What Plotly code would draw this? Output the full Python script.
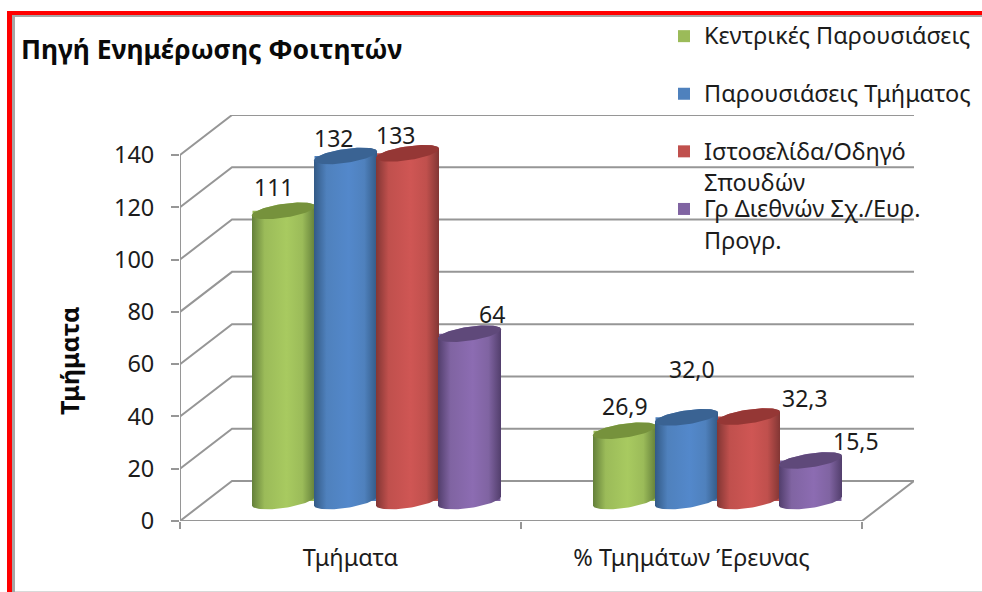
import numpy as np
import plotly.graph_objects as go

W, H = 982, 592
categories = ["Τμήματα", "% Τμημάτων Έρευνας"]
series_names = ["<span style='font-size:23.5px'>Κεντρικές Παρουσιάσεις</span><br>&nbsp;",
                "<span style='font-size:23.5px'>Παρουσιάσεις Τμήματος</span><br>&nbsp;",
                "<span style='font-size:23.5px'>Ιστοσελίδα/Οδηγό</span><br><sub><span style='font-size:23.5px'>Σπουδών</span></sub>",
                "<span style='font-size:23.5px'>Γρ Διεθνών Σχ./Ευρ.</span><br><sub><span style='font-size:23.5px'>Προγρ.</span></sub>"]
kentrikes = [111, 26.9]
tmimatos = [132, 32.0]
istoselida = [133, 32.3]
gr_diethnon = [64, 15.5]
value_labels = [["111", "26,9"], ["132", "32,0"], ["133", "32,3"], ["64", "15,5"]]
y_ticks = [0, 20, 40, 60, 80, 100, 120, 140]
title_text = "Πηγή Ενημέρωσης Φοιτητών"
y_title = "Τμήματα"

series = [kentrikes, tmimatos, istoselida, gr_diethnon]
flat = ["#9bbb59", "#4f81bd", "#c0504d", "#8064a2"]
edge = ["#64803a", "#335a86", "#823634", "#523e6c"]
mid = ["#a8ca60", "#5388cb", "#cf5654", "#8c6cb2"]
cap = ["#76923c", "#3a6393", "#953735", "#5f497a"]
label_shift = [[(-10, 24), (0, 25)], [(-12, 18), (5, 48)], [(-12, 18), (56, 19)], [(22, 20), (45, 19)]]

# plot frame in pixels
L, R, T, B = 180, 914, 115, 521
PX_X = 341.0
PX_Y = 366.0 / 140
BACK_DX, BACK_DY = 52 / PX_X, 40 / PX_Y
MID_DX, MID_DY = BACK_DX / 2, BACK_DY / 2
PITCH = 62 / PX_X
A, Bb, S = 31.5 / PX_X, 7 / PX_Y, 4.5 / PX_Y
GRID = "#969696"
FONT = "Noto Sans"
TXT = "#1c1c1c"

fig = go.Figure()

# walls and floor
gx, gy = [], []
for v in y_ticks:
    gx += [-0.5, -0.5 + BACK_DX, 1.5 + BACK_DX, None]
    gy += [v, v + BACK_DY, v + BACK_DY, None]
gx += [-0.5, -0.5, None, -0.5, 1.5, 1.5 + BACK_DX]
gy += [0, y_ticks[-1], None, 0, 0, BACK_DY]
fig.add_trace(go.Scatter(x=gx, y=gy, mode="lines", line=dict(color=GRID, width=2),
                         showlegend=False, hoverinfo="skip", cliponaxis=False))

# real bars (also supply the legend)
xpos = [i + MID_DX for i in range(len(categories))]
for s, vals in enumerate(series):
    fig.add_trace(go.Bar(x=xpos, y=vals, base=MID_DY, name=series_names[s],
                         marker=dict(color=flat[s], line=dict(width=0)),
                         legendgroup=str(s)))

# cylinder skins drawn from the same values
t_front = np.linspace(np.pi, 2 * np.pi, 40)
t_back = np.linspace(0, np.pi, 40)
t_all = np.linspace(0, 2 * np.pi, 80)
for s, vals in enumerate(series):
    for c, v in enumerate(vals):
        cx = xpos[c] + (s - 1.5) * PITCH
        top = v + MID_DY
        bx = cx + A * np.cos(t_front)
        by = MID_DY + Bb * np.sin(t_front) + S * np.cos(t_front)
        tx = cx + A * np.cos(t_back)
        ty = top + Bb * np.sin(t_back) + S * np.cos(t_back)
        fig.add_trace(go.Scatter(
            x=np.r_[bx, tx, bx[0]], y=np.r_[by, ty, by[0]], mode="lines",
            line=dict(width=0), fill="toself",
            fillgradient=dict(type="horizontal",
                              colorscale=[[0, edge[s]], [0.2, flat[s]], [0.55, mid[s]],
                                          [0.8, flat[s]], [1, edge[s]]]),
            showlegend=False, hoverinfo="skip", cliponaxis=False))
        fig.add_trace(go.Scatter(
            x=cx + A * np.cos(t_all), y=top + Bb * np.sin(t_all) + S * np.cos(t_all),
            mode="lines", line=dict(width=0), fill="toself", fillcolor=cap[s],
            showlegend=False, hoverinfo="skip", cliponaxis=False))
        dxs, dys = label_shift[s][c]
        fig.add_annotation(x=cx, y=top, text=value_labels[s][c], showarrow=False,
                           xshift=dxs, yshift=dys, font=dict(family=FONT, size=23, color=TXT))

def to_pax(x):
    return (x - L) / (R - L)
def to_pay(y):
    return (B - y) / (B - T)

def rect(x0, y0, x1, y1, col):
    return dict(type="rect", xref="paper", yref="paper", x0=to_pax(x0), x1=to_pax(x1),
                y0=to_pay(y0), y1=to_pay(y1), fillcolor=col, line=dict(width=0), layer="above")

fig.update_layout(
    width=W, height=H, autosize=False,
    margin=dict(l=L, r=W - R, t=T, b=H - B, pad=0, autoexpand=False),
    paper_bgcolor="white", plot_bgcolor="rgba(0,0,0,0)",
    barmode="group", bargap=1 - 4 * PITCH, bargroupgap=0,
    font=dict(family=FONT, color=TXT),
    xaxis=dict(range=[-0.5, 1.5 + BACK_DX], tickmode="array", tickvals=[0, 1], ticktext=categories,
               ticklen=0, ticklabelstandoff=20, showgrid=False, zeroline=False, showline=False,
               tickfont=dict(family=FONT, size=23.5, color=TXT),
               minor=dict(tickmode="array", tickvals=[-0.5, 0.5, 1.5], ticks="outside", ticklen=7,
                          tickcolor=GRID, tickwidth=2, showgrid=False)),
    yaxis=dict(range=[0, 140 + BACK_DY], tickmode="array", tickvals=y_ticks, ticks="outside",
               ticklen=8, tickcolor=GRID, tickwidth=2, ticklabelstandoff=12, showgrid=False,
               zeroline=False, showline=False, tickfont=dict(family=FONT, size=23.5, color=TXT)),
    legend=dict(x=to_pax(664), y=to_pay(16), xanchor="left", yanchor="top", valign="top",
                bgcolor="rgba(0,0,0,0)", tracegroupgap=0, traceorder="normal",
                font=dict(family=FONT, size=21, color=TXT), itemclick=False, itemdoubleclick=False),
    shapes=[rect(7, 11, W, 15, "#ff0000"), rect(7, 11, 12, H, "#ff0000"),
            rect(12, 15, W, 17, "#a6a6a6"), rect(12, 15, 15, H, "#a6a6a6"),
            rect(15, H - 1, W, H, "#d9d9d9")],
    annotations=list(fig.layout.annotations) + [
        dict(xref="paper", yref="paper", x=to_pax(19), y=to_pay(49), xanchor="left", yanchor="middle",
             text="<b>" + title_text + "</b>", showarrow=False,
             font=dict(family=FONT, size=26.5, color="#0a0a0a")),
        dict(xref="paper", yref="paper", x=to_pax(69), y=to_pay(361), xanchor="center", yanchor="middle",
             text="<b>" + y_title + "</b>", textangle=-90, showarrow=False,
             font=dict(family=FONT, size=25, color="#0a0a0a")),
    ],
)
fig.write_html("out.html", config=dict(displayModeBar=False),
               post_script="document.body.style.margin='0';document.body.style.overflow='hidden';")
